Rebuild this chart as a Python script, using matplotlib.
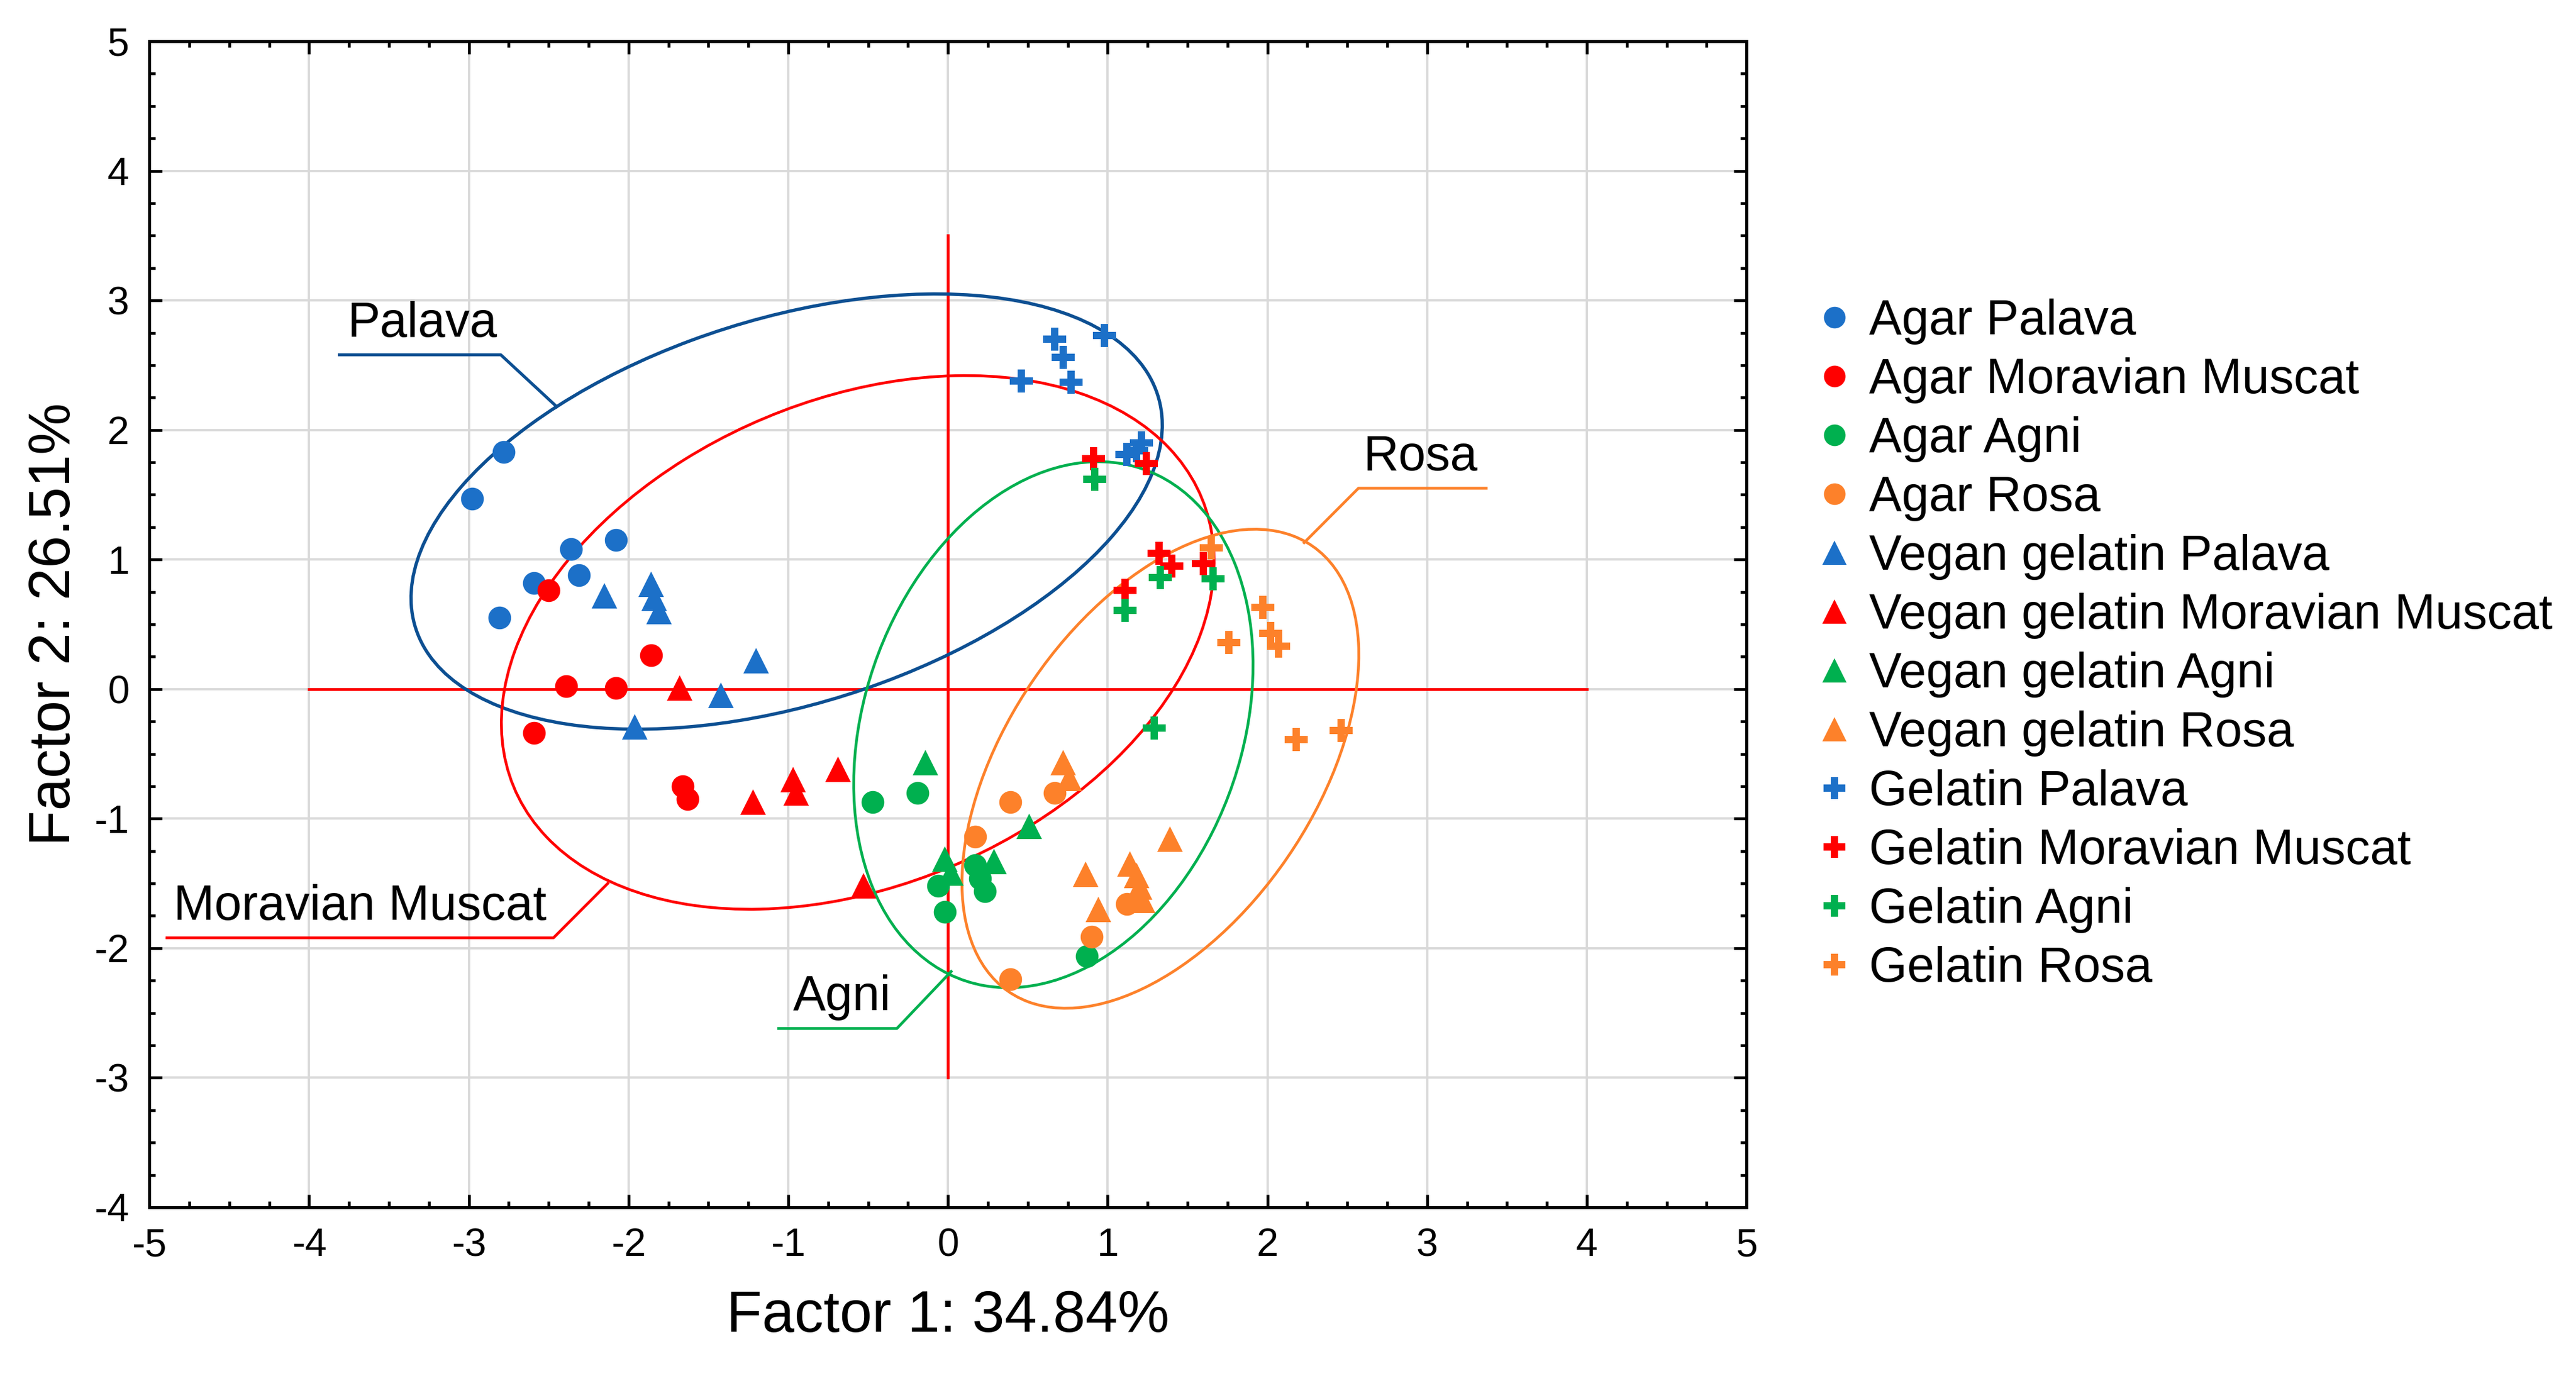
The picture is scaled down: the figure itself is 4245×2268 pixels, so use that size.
import numpy as np
import matplotlib
matplotlib.use("Agg")
import matplotlib.pyplot as plt
from matplotlib.patches import Ellipse

plt.rcParams['font.family'] = ['Liberation Sans', 'DejaVu Sans']
plt.rcParams['axes.unicode_minus'] = False

# scores (Factor 1, Factor 2)
agar_palava_x = [-2.78, -2.98, -2.08, -2.36, -2.31, -2.59, -2.81]
agar_palava_y = [1.83, 1.47, 1.15, 1.08, 0.88, 0.82, 0.55]
agar_muscat_x = [-2.50, -1.86, -2.39, -2.08, -2.59, -1.66, -1.63]
agar_muscat_y = [0.76, 0.26, 0.02, 0.01, -0.34, -0.75, -0.85]
agar_agni_x = [-0.47, -0.19, -0.06, -0.02, 0.17, 0.20, 0.23, 0.87]
agar_agni_y = [-0.87, -0.80, -1.52, -1.72, -1.36, -1.46, -1.56, -2.06]
agar_rosa_x = [0.39, 0.67, 0.17, 1.12, 0.90, 0.39]
agar_rosa_y = [-0.87, -0.80, -1.14, -1.66, -1.91, -2.24]

vegan_palava_x = [-2.15, -1.86, -1.84, -1.81, -1.20, -1.42, -1.96]
vegan_palava_y = [0.72, 0.81, 0.70, 0.60, 0.22, -0.05, -0.29]
vegan_muscat_x = [-1.68, -1.22, -0.97, -0.95, -0.69, -0.53]
vegan_muscat_y = [0.01, -0.87, -0.70, -0.80, -0.62, -1.52]
vegan_agni_x = [-0.14, -0.02, 0.02, 0.29, 0.51]
vegan_agni_y = [-0.57, -1.31, -1.42, -1.33, -1.06]
vegan_rosa_x = [0.72, 0.76, 0.86, 1.14, 1.18, 1.20, 1.22, 0.94, 1.39]
vegan_rosa_y = [-0.57, -0.69, -1.43, -1.35, -1.44, -1.53, -1.63, -1.70, -1.16]

gel_palava_x = [0.67, 0.72, 0.98, 0.46, 0.77, 1.21, 1.18, 1.12]
gel_palava_y = [2.70, 2.56, 2.73, 2.38, 2.37, 1.90, 1.84, 1.81]
gel_muscat_x = [0.91, 1.24, 1.32, 1.40, 1.60, 1.11]
gel_muscat_y = [1.78, 1.74, 1.05, 0.95, 0.97, 0.76]
gel_agni_x = [0.92, 1.33, 1.66, 1.11, 1.29]
gel_agni_y = [1.62, 0.86, 0.85, 0.61, -0.30]
gel_rosa_x = [1.65, 1.97, 2.02, 2.07, 1.76, 2.18, 2.46]
gel_rosa_y = [1.09, 0.63, 0.43, 0.33, 0.36, -0.39, -0.32]

# variety ellipses: centre, full axes, angle (deg)
varieties = ['Palava', 'Moravian Muscat', 'Agni', 'Rosa']
ell_cx = [-1.01, -0.565, 0.66, 1.33]
ell_cy = [1.37, 0.36, -0.275, -0.615]
ell_w = [5.00, 4.92, 4.12, 3.96]
ell_h = [2.90, 3.56, 2.40, 2.04]
ell_ang = [24.6, 37.6, 77.9, 65.3]

c_blue = '#1c70c8'
c_red = '#ff0000'
c_green = '#00b04f'
c_orange = '#fd812a'
c_dblue = '#0c4f92'

fig = plt.figure(figsize=(14.15, 7.56), dpi=300)
ax = fig.add_axes([0.058, 0.1226, 0.62, 0.8474])

ax.set_xlim(-5, 5)
ax.set_ylim(-4, 5)
ax.set_xticks(np.arange(-5, 6, 1))
ax.set_yticks(np.arange(-4, 6, 1))
ax.set_xticks(np.arange(-5, 5.01, 0.25), minor=True)
ax.set_yticks(np.arange(-4, 5.01, 0.25), minor=True)
ax.grid(True, which='major', color='#d9d9d9', linewidth=0.9, zorder=0)
ax.set_axisbelow(True)
ax.tick_params(which='both', direction='in', top=True, right=True, labelsize=15.5, width=1.1)
ax.tick_params(which='major', length=5, pad=8)
ax.tick_params(which='minor', length=2.5)
for s in ax.spines.values():
    s.set_linewidth(1.2)

# reference axes through the origin
ax.plot([-4, 4], [0, 0], color=c_red, lw=1.1, zorder=1)
ax.plot([0, 0], [-3, 3.5], color=c_red, lw=1.1, zorder=1)

ell_colors = [c_dblue, c_red, c_green, c_orange]
ell_lw = [1.3, 1.1, 1.1, 1.1]
for cx, cy, w, h, a, col, lw in zip(ell_cx, ell_cy, ell_w, ell_h, ell_ang, ell_colors, ell_lw):
    ax.add_patch(Ellipse((cx, cy), w, h, angle=a, fill=False, edgecolor=col, lw=lw, zorder=2))

# labels with leader lines
ax.plot([-3.81, -2.80, -2.45], [2.58, 2.58, 2.18], color=c_dblue, lw=1.2, zorder=2)
ax.text(-3.76, 2.64, 'Palava', fontsize=19.4, ha='left', va='bottom')
ax.plot([-4.89, -2.47, -2.13], [-1.92, -1.92, -1.50], color=c_red, lw=1.1, zorder=2)
ax.text(-4.85, -1.86, 'Moravian Muscat', fontsize=19.4, ha='left', va='bottom')
ax.plot([-1.06, -0.32, 0.02], [-2.62, -2.62, -2.18], color=c_green, lw=1.1, zorder=2)
ax.text(-0.97, -2.56, 'Agni', fontsize=19.4, ha='left', va='bottom')
ax.plot([3.37, 2.57, 2.23], [1.55, 1.55, 1.13], color=c_orange, lw=1.1, zorder=2)
ax.text(2.60, 1.61, 'Rosa', fontsize=19.4, ha='left', va='bottom')

groups = [
    (agar_palava_x, agar_palava_y, 'o', c_blue, 'Agar Palava'),
    (agar_muscat_x, agar_muscat_y, 'o', c_red, 'Agar Moravian Muscat'),
    (agar_agni_x, agar_agni_y, 'o', c_green, 'Agar Agni'),
    (agar_rosa_x, agar_rosa_y, 'o', c_orange, 'Agar Rosa'),
    (vegan_palava_x, vegan_palava_y, '^', c_blue, 'Vegan gelatin Palava'),
    (vegan_muscat_x, vegan_muscat_y, '^', c_red, 'Vegan gelatin Moravian Muscat'),
    (vegan_agni_x, vegan_agni_y, '^', c_green, 'Vegan gelatin Agni'),
    (vegan_rosa_x, vegan_rosa_y, '^', c_orange, 'Vegan gelatin Rosa'),
    (gel_palava_x, gel_palava_y, 'P', c_blue, 'Gelatin Palava'),
    (gel_muscat_x, gel_muscat_y, 'P', c_red, 'Gelatin Moravian Muscat'),
    (gel_agni_x, gel_agni_y, 'P', c_green, 'Gelatin Agni'),
    (gel_rosa_x, gel_rosa_y, 'P', c_orange, 'Gelatin Rosa'),
]
msize = {'o': 9, '^': 10.2, 'P': 9.2}
for x, y, m, col, lab in groups:
    ax.plot(x, y, linestyle='none', marker=m, ms=msize[m], color=col, mec=col, mew=0, label=lab, zorder=3)

ax.set_xlabel('Factor 1: 34.84%', fontsize=23, labelpad=10)
ax.set_ylabel('Factor 2: 26.51%', fontsize=23, labelpad=5)

leg = fig.legend(loc='center left', bbox_to_anchor=(0.697, 0.531), frameon=False,
                 fontsize=19.4, handlelength=0.8, handletextpad=0.3, labelspacing=0.26,
                 markerscale=0.95, borderaxespad=0)

fig.savefig('out.png', dpi=300)
